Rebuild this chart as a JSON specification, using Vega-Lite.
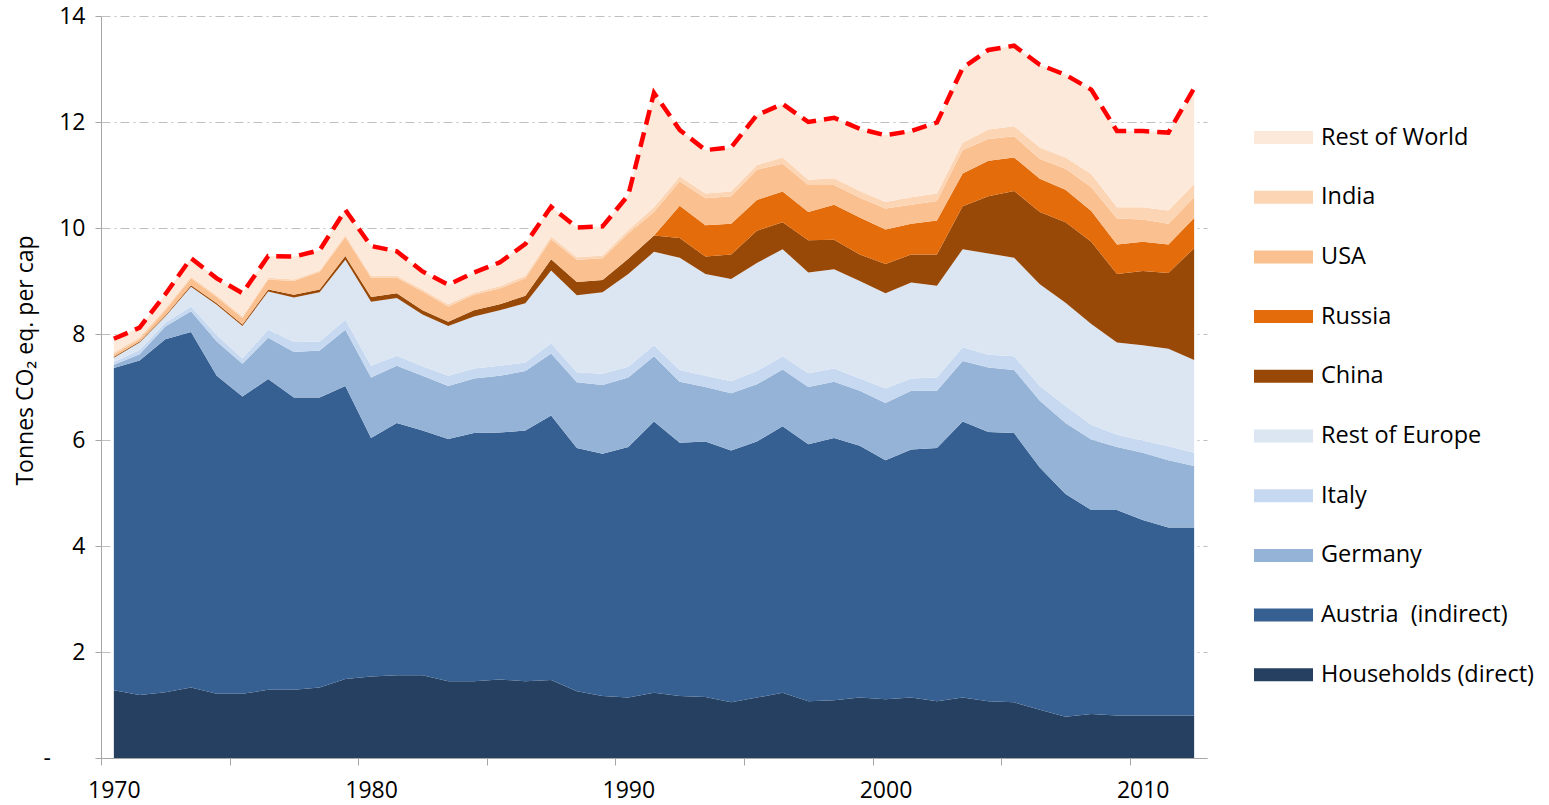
{
  "$schema": "https://vega.github.io/schema/vega-lite/v6.json",
  "width": 1106,
  "height": 742,
  "autosize": {"type": "none"},
  "padding": {"left": 101, "top": 16, "right": 342, "bottom": 47},
  "background": "white",
  "config": {"view": {"stroke": null}, "font": "Open Sans"},
  "datasets": {
    "series": [
      {"source":"Households","rank":1},{"source":"Austria","rank":2},{"source":"Germany","rank":3},{"source":"Italy","rank":4},{"source":"RestEurope","rank":5},
      {"source":"China","rank":6},{"source":"Russia","rank":7},{"source":"USA","rank":8},{"source":"India","rank":9},{"source":"RestWorld","rank":10}
    ],
    "emissions": [
    {"year":1970,"Households":1.28,"Austria":6.08,"Germany":0.06,"Italy":0.05,"RestEurope":0.08,"China":0.02,"Russia":0,"USA":0.05,"India":0.03,"RestWorld":0.26},
    {"year":1971,"Households":1.19,"Austria":6.31,"Germany":0.12,"Italy":0.08,"RestEurope":0.14,"China":0.02,"Russia":0,"USA":0.04,"India":0.04,"RestWorld":0.18},
    {"year":1972,"Households":1.24,"Austria":6.66,"Germany":0.24,"Italy":0.07,"RestEurope":0.12,"China":0.02,"Russia":0,"USA":0.10,"India":0.03,"RestWorld":0.27},
    {"year":1973,"Households":1.33,"Austria":6.71,"Germany":0.39,"Italy":0.09,"RestEurope":0.37,"China":0.03,"Russia":0,"USA":0.13,"India":0.03,"RestWorld":0.35},
    {"year":1974,"Households":1.21,"Austria":6.00,"Germany":0.65,"Italy":0.12,"RestEurope":0.57,"China":0.03,"Russia":0,"USA":0.12,"India":0.03,"RestWorld":0.32},
    {"year":1975,"Households":1.21,"Austria":5.61,"Germany":0.62,"Italy":0.10,"RestEurope":0.61,"China":0.03,"Russia":0,"USA":0.12,"India":0.03,"RestWorld":0.44},
    {"year":1976,"Households":1.29,"Austria":5.86,"Germany":0.78,"Italy":0.15,"RestEurope":0.72,"China":0.04,"Russia":0,"USA":0.19,"India":0.03,"RestWorld":0.41},
    {"year":1977,"Households":1.29,"Austria":5.51,"Germany":0.86,"Italy":0.19,"RestEurope":0.84,"China":0.05,"Russia":0,"USA":0.26,"India":0.03,"RestWorld":0.43},
    {"year":1978,"Households":1.33,"Austria":5.47,"Germany":0.89,"Italy":0.17,"RestEurope":0.93,"China":0.05,"Russia":0,"USA":0.33,"India":0.03,"RestWorld":0.38},
    {"year":1979,"Households":1.49,"Austria":5.53,"Germany":1.06,"Italy":0.19,"RestEurope":1.13,"China":0.07,"Russia":0,"USA":0.36,"India":0.04,"RestWorld":0.47},
    {"year":1980,"Households":1.54,"Austria":4.50,"Germany":1.14,"Italy":0.22,"RestEurope":1.21,"China":0.09,"Russia":0,"USA":0.36,"India":0.04,"RestWorld":0.56},
    {"year":1981,"Households":1.56,"Austria":4.76,"Germany":1.08,"Italy":0.19,"RestEurope":1.09,"China":0.09,"Russia":0,"USA":0.29,"India":0.04,"RestWorld":0.46},
    {"year":1982,"Households":1.56,"Austria":4.62,"Germany":1.03,"Italy":0.18,"RestEurope":0.98,"China":0.08,"Russia":0,"USA":0.35,"India":0.04,"RestWorld":0.34},
    {"year":1983,"Households":1.45,"Austria":4.57,"Germany":1.00,"Italy":0.19,"RestEurope":0.94,"China":0.08,"Russia":0,"USA":0.29,"India":0.04,"RestWorld":0.37},
    {"year":1984,"Households":1.45,"Austria":4.68,"Germany":1.03,"Italy":0.19,"RestEurope":0.98,"China":0.12,"Russia":0,"USA":0.29,"India":0.04,"RestWorld":0.38},
    {"year":1985,"Households":1.48,"Austria":4.66,"Germany":1.07,"Italy":0.19,"RestEurope":1.05,"China":0.11,"Russia":0,"USA":0.30,"India":0.04,"RestWorld":0.45},
    {"year":1986,"Households":1.45,"Austria":4.73,"Germany":1.12,"Italy":0.16,"RestEurope":1.12,"China":0.14,"Russia":0,"USA":0.33,"India":0.05,"RestWorld":0.60},
    {"year":1987,"Households":1.47,"Austria":4.99,"Germany":1.17,"Italy":0.19,"RestEurope":1.38,"China":0.21,"Russia":0,"USA":0.38,"India":0.05,"RestWorld":0.56},
    {"year":1988,"Households":1.26,"Austria":4.59,"Germany":1.24,"Italy":0.19,"RestEurope":1.45,"China":0.25,"Russia":0,"USA":0.42,"India":0.05,"RestWorld":0.56},
    {"year":1989,"Households":1.17,"Austria":4.57,"Germany":1.30,"Italy":0.21,"RestEurope":1.54,"China":0.23,"Russia":0,"USA":0.41,"India":0.05,"RestWorld":0.55},
    {"year":1990,"Households":1.14,"Austria":4.73,"Germany":1.31,"Italy":0.20,"RestEurope":1.75,"China":0.29,"Russia":0,"USA":0.48,"India":0.06,"RestWorld":0.66},
    {"year":1991,"Households":1.23,"Austria":5.12,"Germany":1.23,"Italy":0.21,"RestEurope":1.76,"China":0.31,"Russia":0,"USA":0.44,"India":0.09,"RestWorld":2.16},
    {"year":1992,"Households":1.17,"Austria":4.78,"Germany":1.15,"Italy":0.22,"RestEurope":2.12,"China":0.37,"Russia":0.61,"USA":0.46,"India":0.09,"RestWorld":0.88},
    {"year":1993,"Households":1.15,"Austria":4.82,"Germany":1.03,"Italy":0.21,"RestEurope":1.92,"China":0.33,"Russia":0.59,"USA":0.51,"India":0.09,"RestWorld":0.82},
    {"year":1994,"Households":1.05,"Austria":4.75,"Germany":1.08,"Italy":0.23,"RestEurope":1.93,"China":0.46,"Russia":0.58,"USA":0.52,"India":0.09,"RestWorld":0.83},
    {"year":1995,"Households":1.14,"Austria":4.83,"Germany":1.08,"Italy":0.25,"RestEurope":2.04,"China":0.61,"Russia":0.58,"USA":0.57,"India":0.09,"RestWorld":0.94},
    {"year":1996,"Households":1.23,"Austria":5.03,"Germany":1.07,"Italy":0.25,"RestEurope":2.02,"China":0.51,"Russia":0.58,"USA":0.52,"India":0.12,"RestWorld":1.01},
    {"year":1997,"Households":1.07,"Austria":4.85,"Germany":1.08,"Italy":0.26,"RestEurope":1.90,"China":0.61,"Russia":0.53,"USA":0.51,"India":0.10,"RestWorld":1.09},
    {"year":1998,"Households":1.09,"Austria":4.95,"Germany":1.06,"Italy":0.25,"RestEurope":1.87,"China":0.56,"Russia":0.66,"USA":0.37,"India":0.13,"RestWorld":1.14},
    {"year":1999,"Households":1.14,"Austria":4.75,"Germany":1.04,"Italy":0.23,"RestEurope":1.84,"China":0.50,"Russia":0.70,"USA":0.37,"India":0.13,"RestWorld":1.17},
    {"year":2000,"Households":1.11,"Austria":4.51,"Germany":1.08,"Italy":0.27,"RestEurope":1.80,"China":0.55,"Russia":0.65,"USA":0.40,"India":0.12,"RestWorld":1.26},
    {"year":2001,"Households":1.14,"Austria":4.68,"Germany":1.11,"Italy":0.23,"RestEurope":1.81,"China":0.53,"Russia":0.58,"USA":0.36,"India":0.14,"RestWorld":1.25},
    {"year":2002,"Households":1.07,"Austria":4.78,"Germany":1.08,"Italy":0.25,"RestEurope":1.73,"China":0.59,"Russia":0.64,"USA":0.37,"India":0.14,"RestWorld":1.34},
    {"year":2003,"Households":1.14,"Austria":5.21,"Germany":1.14,"Italy":0.26,"RestEurope":1.85,"China":0.81,"Russia":0.62,"USA":0.44,"India":0.14,"RestWorld":1.41},
    {"year":2004,"Households":1.07,"Austria":5.08,"Germany":1.22,"Italy":0.24,"RestEurope":1.91,"China":1.08,"Russia":0.67,"USA":0.41,"India":0.18,"RestWorld":1.50},
    {"year":2005,"Households":1.05,"Austria":5.08,"Germany":1.19,"Italy":0.26,"RestEurope":1.86,"China":1.26,"Russia":0.63,"USA":0.40,"India":0.19,"RestWorld":1.52},
    {"year":2006,"Households":0.91,"Austria":4.57,"Germany":1.26,"Italy":0.28,"RestEurope":1.92,"China":1.36,"Russia":0.63,"USA":0.37,"India":0.22,"RestWorld":1.56},
    {"year":2007,"Households":0.78,"Austria":4.20,"Germany":1.34,"Italy":0.32,"RestEurope":1.95,"China":1.52,"Russia":0.61,"USA":0.40,"India":0.21,"RestWorld":1.56},
    {"year":2008,"Households":0.83,"Austria":3.85,"Germany":1.33,"Italy":0.28,"RestEurope":1.90,"China":1.55,"Russia":0.58,"USA":0.45,"India":0.25,"RestWorld":1.59},
    {"year":2009,"Households":0.80,"Austria":3.88,"Germany":1.19,"Italy":0.23,"RestEurope":1.74,"China":1.29,"Russia":0.56,"USA":0.49,"India":0.21,"RestWorld":1.44},
    {"year":2010,"Households":0.80,"Austria":3.69,"Germany":1.27,"Italy":0.23,"RestEurope":1.80,"China":1.40,"Russia":0.55,"USA":0.42,"India":0.23,"RestWorld":1.44},
    {"year":2011,"Households":0.80,"Austria":3.55,"Germany":1.27,"Italy":0.26,"RestEurope":1.84,"China":1.43,"Russia":0.54,"USA":0.39,"India":0.25,"RestWorld":1.47},
    {"year":2012,"Households":0.80,"Austria":3.55,"Germany":1.16,"Italy":0.25,"RestEurope":1.75,"China":2.11,"Russia":0.57,"USA":0.39,"India":0.25,"RestWorld":1.81}
  ]},
  "data": {"name": "emissions"},
  "transform": [
    {"fold": ["Households","Austria","Germany","Italy","RestEurope","China","Russia","USA","India","RestWorld"], "as": ["source","value"]},
    {"lookup": "source", "from": {"data": {"name": "series"}, "key": "source", "fields": ["rank"]}}
  ],
  "layer": [
    {
      "mark": {"type": "area", "interpolate": "linear"},
      "encoding": {
        "x": {"field": "year", "type": "quantitative",
          "scale": {"domain": [1969.5, 2012.5], "nice": false, "zero": false},
          "axis": {"orient": "bottom", "values": [1970,1980,1990,2000,2010], "format": "d", "ticks": false, "domain": false, "grid": false,
            "labelFontSize": 23, "labelPadding": 21, "labelColor": "#000000", "title": null}},
        "y": {"field": "value", "type": "quantitative", "stack": "zero",
          "scale": {"domain": [0, 14], "nice": false},
          "title": "Tonnes CO₂ eq. per cap",
          "axis": {"values": [0,2,4,6,8,10,12,14],
            "labelExpr": "datum.value == 0 ? '-\u2002\u2002\u2002\u200b' : datum.label",
            "grid": true, "gridColor": "#BFBFBF", "gridDash": [9,4,2,4], "gridWidth": 1.2,
            "domainColor": "#A6A6A6", "tickColor": "#A6A6A6", "tickSize": 6,
            "labelFontSize": 23, "labelPadding": 10, "labelColor": "#000000",
            "titleFontSize": 23, "titleFontWeight": "normal", "titleColor": "#000000",
            "titleAngle": -90, "titleX": -76, "titleY": 344, "titleBaseline": "middle", "titleAlign": "center"}},
        "order": {"field": "rank", "type": "quantitative", "sort": "ascending"},
        "color": {"field": "source", "type": "nominal",
          "scale": {"domain": ["Households","Austria","Germany","Italy","RestEurope","China","Russia","USA","India","RestWorld"],
                    "range": ["#254061","#376092","#95B3D7","#C6D9F1","#DCE6F2","#984807","#E46C0A","#FAC090","#FCD5B5","#FDE9D9"]},
          "legend": {"orient": "none", "legendX": 1153, "legendY": 92, "title": null,
            "values": ["RestWorld","India","USA","Russia","China","RestEurope","Italy","Germany","Austria","Households"],
            "symbolType": "M-1,-0.22L1,-0.22L1,0.22L-1,0.22Z", "symbolSize": 3481, "symbolStrokeWidth": 0, "symbolOpacity": 1,
            "labelFont": "Open Sans", "labelFontSize": 23.5, "labelColor": "#000000", "labelOffset": 8, "labelLimit": 400, "rowPadding": 18.7, "padding": 0,
            "labelExpr": "datum.label == 'Households' ? 'Households (direct)' : datum.label == 'Austria' ? 'Austria\u00a0 (indirect)' : datum.label == 'RestEurope' ? 'Rest of Europe' : datum.label == 'RestWorld' ? 'Rest of World' : datum.label"}}
      }
    },
    {
      "mark": {"type": "line", "color": "#FF0000", "strokeWidth": 4.5, "strokeDash": [15, 8]},
      "encoding": {
        "x": {"field": "year", "type": "quantitative",
          "axis": {"orient": "bottom", "values": [1969.5,1974.5,1979.5,1984.5,1989.5,1994.5,1999.5,2004.5,2009.5],
            "labels": false, "ticks": true, "tickSize": 7, "tickColor": "#A6A6A6", "domainColor": "#A6A6A6", "grid": false, "title": null}},
        "y": {"aggregate": "sum", "field": "value", "type": "quantitative", "title": "Tonnes CO₂ eq. per cap"}
      }
    }
  ],
  "resolve": {"axis": {"x": "independent"}}
}
